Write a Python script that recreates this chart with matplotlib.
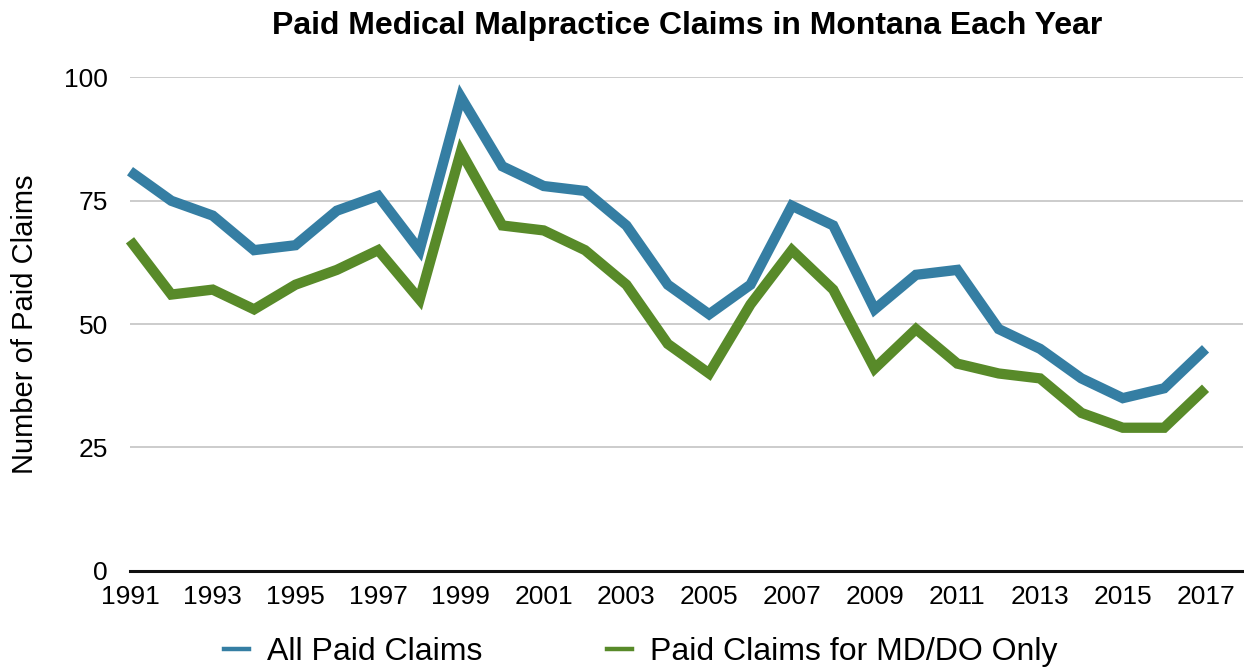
import numpy as np
import matplotlib
matplotlib.use("Agg")
import matplotlib.pyplot as plt
from matplotlib.lines import Line2D

plt.rcParams['font.family'] = ['Liberation Sans', 'DejaVu Sans']

years = list(range(1991, 2018))
all_claims = [81, 75, 72, 65, 66, 73, 76, 65, 96, 82, 78, 77, 70, 58, 52, 58,
              74, 70, 53, 60, 61, 49, 45, 39, 35, 37, 45]
md_do_claims = [67, 56, 57, 53, 58, 61, 65, 55, 85, 70, 69, 65, 58, 46, 40, 54,
                65, 57, 41, 49, 42, 40, 39, 32, 29, 29, 37]
x_ticks = list(range(1991, 2018, 2))
y_ticks = [0, 25, 50, 75, 100]

blue = '#357ea3'
green = '#588a29'

fig = plt.figure(figsize=(12.44, 6.68), dpi=100)
ax = fig.add_axes([0.1045, 0.1455, 0.8945, 0.7385])

for vals, col in [(all_claims, blue), (md_do_claims, green)]:
    ax.plot(years, vals, color=col, lw=7.4, solid_joinstyle='miter',
            solid_capstyle='butt', clip_on=False, zorder=3)

ax.set_xlim(1991, 2017.9)
ax.set_ylim(0, 100)
ax.set_xticks(x_ticks)
ax.set_yticks(y_ticks)
ax.tick_params(axis='both', length=0, labelsize=19)
ax.tick_params(axis='x', pad=10)
ax.tick_params(axis='y', pad=16)
ax.grid(axis='y', color='#c8c8c8', lw=1.3)
ax.set_axisbelow(True)
for s in ['left', 'right', 'top']:
    ax.spines[s].set_visible(False)
ax.spines['bottom'].set_linewidth(2.2)
ax.spines['bottom'].set_color('#111111')
ax.spines['bottom'].set_zorder(4)

ax.set_ylabel('Number of Paid Claims', fontsize=21)
ax.yaxis.set_label_coords(-0.082, 0.5)

fig.text(0.552, 0.961, 'Paid Medical Malpractice Claims in Montana Each Year',
         ha='center', va='center', fontsize=23, fontweight='bold')

handles = [Line2D([], [], color=blue, lw=3.2), Line2D([], [], color=green, lw=3.2)]
fig.legend(handles, ['All Paid Claims', 'Paid Claims for MD/DO Only'],
           loc='center', bbox_to_anchor=(0.515, 0.024), ncol=2, frameon=False,
           fontsize=23, handlelength=0.8, handletextpad=0.55, columnspacing=3.9)

fig.savefig('out.png', dpi=100)
